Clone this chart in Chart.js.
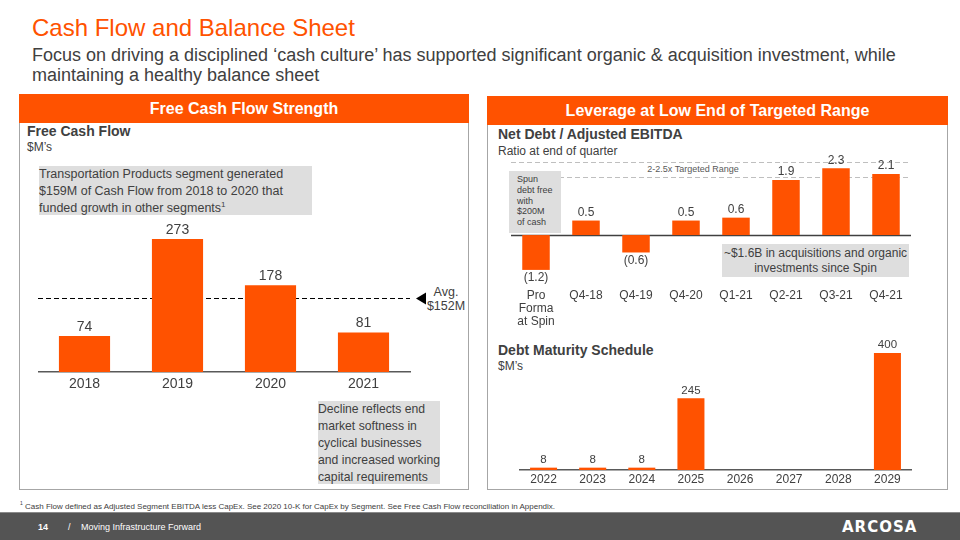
<!DOCTYPE html>
<html>
<head>
<meta charset="utf-8">
<script src="https://cdn.jsdelivr.net/npm/chart.js@4.4.1/dist/chart.umd.min.js"></script>
<style>
  body { margin: 0; width: 960px; height: 540px; position: relative; background: #fff; overflow: hidden;
         font-family: "Liberation Sans", Arial, sans-serif; color: #404040; }
  .abs { position: absolute; }
  .title { left: 32px; top: 14px; font-size: 24px; color: #ff5200; }
  .subtitle { left: 32px; top: 45px; font-size: 18px; line-height: 20px; color: #404040; }
  .header { background: #ff5200; color: #fff; font-weight: bold; font-size: 16px; text-align: center; line-height: 29px; height: 29px; }
  .panel { border: 1.5px solid #a6a6a6; border-top: none; box-sizing: border-box; }
  .ctitle { font-weight: bold; font-size: 14px; color: #404040; }
  .csub { font-size: 12px; color: #404040; }
  .note { background: #dedede; font-size: 12.5px; line-height: 17px; color: #404040; white-space: nowrap; z-index: 2; }
  canvas { position: absolute; z-index: 1; }
  .footer { left: 0; top: 512px; width: 960px; height: 28px; background: #545454; border-top: 1px solid #8a8a8a; }
</style>
</head>
<body>
<div class="abs title">Cash Flow and Balance Sheet</div>
<div class="abs subtitle">Focus on driving a disciplined ‘cash culture’ has supported significant organic &amp; acquisition investment, while<br>maintaining a healthy balance sheet</div>

<!-- left panel -->
<div class="abs header" style="left:19px;top:94px;width:450px;">Free Cash Flow Strength</div>
<div class="abs panel" style="left:19px;top:123px;width:450px;height:367px;"></div>
<div class="abs ctitle" style="left:27px;top:123px;">Free Cash Flow</div>
<div class="abs csub" style="left:27px;top:140px;">$M’s</div>
<div class="abs note" style="left:39px;top:166px;width:273px;height:49px;">Transportation Products segment generated<br>$159M of Cash Flow from 2018 to 2020 that<br>funded growth in other segments<sup style="font-size:8px;line-height:0;">1</sup></div>
<div class="abs note" style="left:318px;top:401px;width:122px;height:83px;font-size:12.2px;">Decline reflects end<br>market softness in<br>cyclical businesses<br>and increased working<br>capital requirements</div>
<div class="abs" style="left:426px;top:285px;font-size:12.5px;line-height:14px;text-align:center;width:40px;">Avg.<br>$152M</div>
<canvas id="fcfChart" style="left:38px;top:220px;width:392px;height:176px;"></canvas>

<!-- right panel -->
<div class="abs header" style="left:487px;top:96px;width:461px;">Leverage at Low End of Targeted Range</div>
<div class="abs panel" style="left:487px;top:125px;width:461px;height:365px;"></div>
<div class="abs ctitle" style="left:498px;top:126px;">Net Debt / Adjusted EBITDA</div>
<div class="abs csub" style="left:498px;top:144px;">Ratio at end of quarter</div>
<div class="abs" style="left:600px;top:164px;width:186px;text-align:center;font-size:9px;color:#595959;">2-2.5x Targeted Range</div>
<div class="abs note" style="left:509px;top:171px;width:52px;height:62px;font-size:9px;line-height:10.8px;padding:3px 0 0 8px;box-sizing:border-box;">Spun<br>debt free<br>with<br>$200M<br>of cash</div>
<div class="abs note" style="left:722px;top:244px;width:187px;height:33px;text-align:center;font-size:12px;line-height:15px;padding-top:2px;box-sizing:border-box;">~$1.6B in acquisitions and organic<br>investments since Spin</div>
<canvas id="leverageChart" style="left:511px;top:150px;width:400px;height:185px;"></canvas>

<div class="abs ctitle" style="left:498px;top:342px;">Debt Maturity Schedule</div>
<div class="abs csub" style="left:498px;top:359px;">$M’s</div>
<canvas id="debtChart" style="left:519px;top:335px;width:393px;height:155px;"></canvas>

<div class="abs" style="left:20px;top:500px;font-size:8px;color:#404040;"><sup style="font-size:5px;">1</sup> Cash Flow defined as Adjusted Segment EBITDA less CapEx. See 2020 10-K for CapEx by Segment. See Free Cash Flow reconciliation in Appendix.</div>

<div class="abs footer"></div>
<div class="abs" style="left:38px;top:522px;font-size:9px;font-weight:bold;color:#fff;">14</div>
<div class="abs" style="left:68px;top:522px;font-size:9px;color:#fff;">/</div>
<div class="abs" style="left:81px;top:522px;font-size:9px;color:#fff;">Moving Infrastructure Forward</div>
<div class="abs" style="left:842px;top:518px;font-size:15px;font-weight:900;color:#fff;letter-spacing:1px;font-family:'DejaVu Sans',sans-serif;">ARCOSA</div>

<script>
// Free cash flow data ($M)
const fcfYears = ["2018", "2019", "2020", "2021"];
const fcfValues = [74, 273, 178, 81];
const fcfAverage = 152;

// Net debt / adjusted EBITDA
const leverageQuarters = [["Pro", "Forma", "at Spin"], "Q4-18", "Q4-19", "Q4-20", "Q1-21", "Q2-21", "Q3-21", "Q4-21"];
const leverageValues = [-1.2, 0.5, -0.6, 0.5, 0.6, 1.9, 2.3, 2.1];
const targetRange = [2.0, 2.5];

// Debt maturity ($M)
const debtYears = ["2022", "2023", "2024", "2025", "2026", "2027", "2028", "2029"];
const debtValues = [8, 8, 8, 245, null, null, null, 400];

const orange = "#ff5200";
const textGray = "#404040";
const fontFamily = "'Liberation Sans', Arial, sans-serif";

// draws value labels above (or below, for negatives) each bar
const barLabels = {
  id: "barLabels",
  afterDatasetsDraw(chart, args, opts) {
    const ctx = chart.ctx;
    const meta = chart.getDatasetMeta(0);
    const data = chart.data.datasets[0].data;
    ctx.save();
    ctx.font = opts.size + "px " + fontFamily;
    ctx.fillStyle = textGray;
    ctx.textAlign = "center";
    meta.data.forEach((bar, i) => {
      const v = data[i];
      if (v === null) return;
      const text = opts.format(v);
      if (v < 0) {
        ctx.textBaseline = "top";
        ctx.fillText(text, bar.x, bar.y + 2);
      } else {
        ctx.textBaseline = "bottom";
        ctx.fillText(text, bar.x, bar.y - 2);
      }
    });
    ctx.restore();
  },
};

// horizontal reference lines (avg, target range, zero line)
const refLines = {
  id: "refLines",
  beforeDatasetsDraw(chart, args, opts) {
    const ctx = chart.ctx;
    const area = chart.chartArea;
    const y = chart.scales.y;
    ctx.save();
    (opts.lines || []).forEach((l) => {
      const py = Math.round(y.getPixelForValue(l.value)) + 0.5;
      ctx.strokeStyle = l.color;
      ctx.lineWidth = l.width || 1;
      ctx.setLineDash(l.dash || []);
      ctx.beginPath();
      ctx.moveTo(area.left, py);
      ctx.lineTo(area.right, py);
      ctx.stroke();
      if (l.arrow) {
        ctx.setLineDash([]);
        ctx.fillStyle = l.color;
        ctx.beginPath();
        ctx.moveTo(area.right + 6, py);
        ctx.lineTo(area.right + 16, py - 6);
        ctx.lineTo(area.right + 16, py + 6);
        ctx.closePath();
        ctx.fill();
      }
    });
    ctx.restore();
  },
};

const fixHeight = (h) => (scale) => { scale.height = h; };

const makeBarChart = (el, labels, values, cfg) => {
  new Chart(el, {
    type: "bar",
    data: {
      labels: labels,
      datasets: [
        {
          data: values,
          backgroundColor: orange,
          borderWidth: 0,
          categoryPercentage: 1,
          barPercentage: 0.55,
        },
      ],
    },
    options: {
      responsive: false,
      animation: false,
      layout: { padding: { left: 0, right: cfg.padRight || 0, top: 0, bottom: 0 } },
      scales: {
        x: {
          grid: { display: false, drawTicks: false, tickLength: 0 },
          border: { display: cfg.border, color: "#595959", width: 1.5 },
          ticks: {
            color: textGray,
            padding: cfg.tickPad,
            font: { family: fontFamily, size: cfg.tickSize, lineHeight: 1.1 },
            maxRotation: 0,
            autoSkip: false,
          },
          afterFit: fixHeight(cfg.axisHeight),
        },
        y: { display: false, min: cfg.min, max: cfg.max },
      },
      plugins: {
        legend: { display: false },
        tooltip: { enabled: false },
        barLabels: { size: cfg.labelSize, format: cfg.format },
        refLines: { lines: cfg.lines || [] },
      },
    },
    plugins: [refLines, barLabels],
  });
};

const setSize = (id) => {
  const el = document.getElementById(id);
  el.width = parseInt(el.style.width);
  el.height = parseInt(el.style.height);
  return el;
};

makeBarChart(setSize("fcfChart"), fcfYears, fcfValues, {
  min: 0, max: 312, axisHeight: 24, tickPad: 4, tickSize: 14, labelSize: 14, border: true, padRight: 20,
  format: (v) => String(v),
  lines: [{ value: fcfAverage, color: "#000", dash: [5, 3], width: 1.2, arrow: true }],
});

makeBarChart(setSize("leverageChart"), leverageQuarters, leverageValues, {
  min: -1.72, max: 2.93, axisHeight: 50, tickPad: 4, tickSize: 12, labelSize: 12, border: false,
  format: (v) => (v < 0 ? "(" + Math.abs(v).toFixed(1) + ")" : v.toFixed(1)),
  lines: [
    { value: targetRange[0], color: "#bfbfbf", dash: [5, 3], width: 1.2 },
    { value: targetRange[1], color: "#bfbfbf", dash: [5, 3], width: 1.2 },
    { value: 0, color: "#404040", width: 1.5 },
  ],
});

makeBarChart(setSize("debtChart"), debtYears, debtValues, {
  min: 0, max: 461.5, axisHeight: 20, tickPad: 3, tickSize: 12, labelSize: 11.5, border: true,
  format: (v) => String(v),
});
</script>
</body>
</html>
